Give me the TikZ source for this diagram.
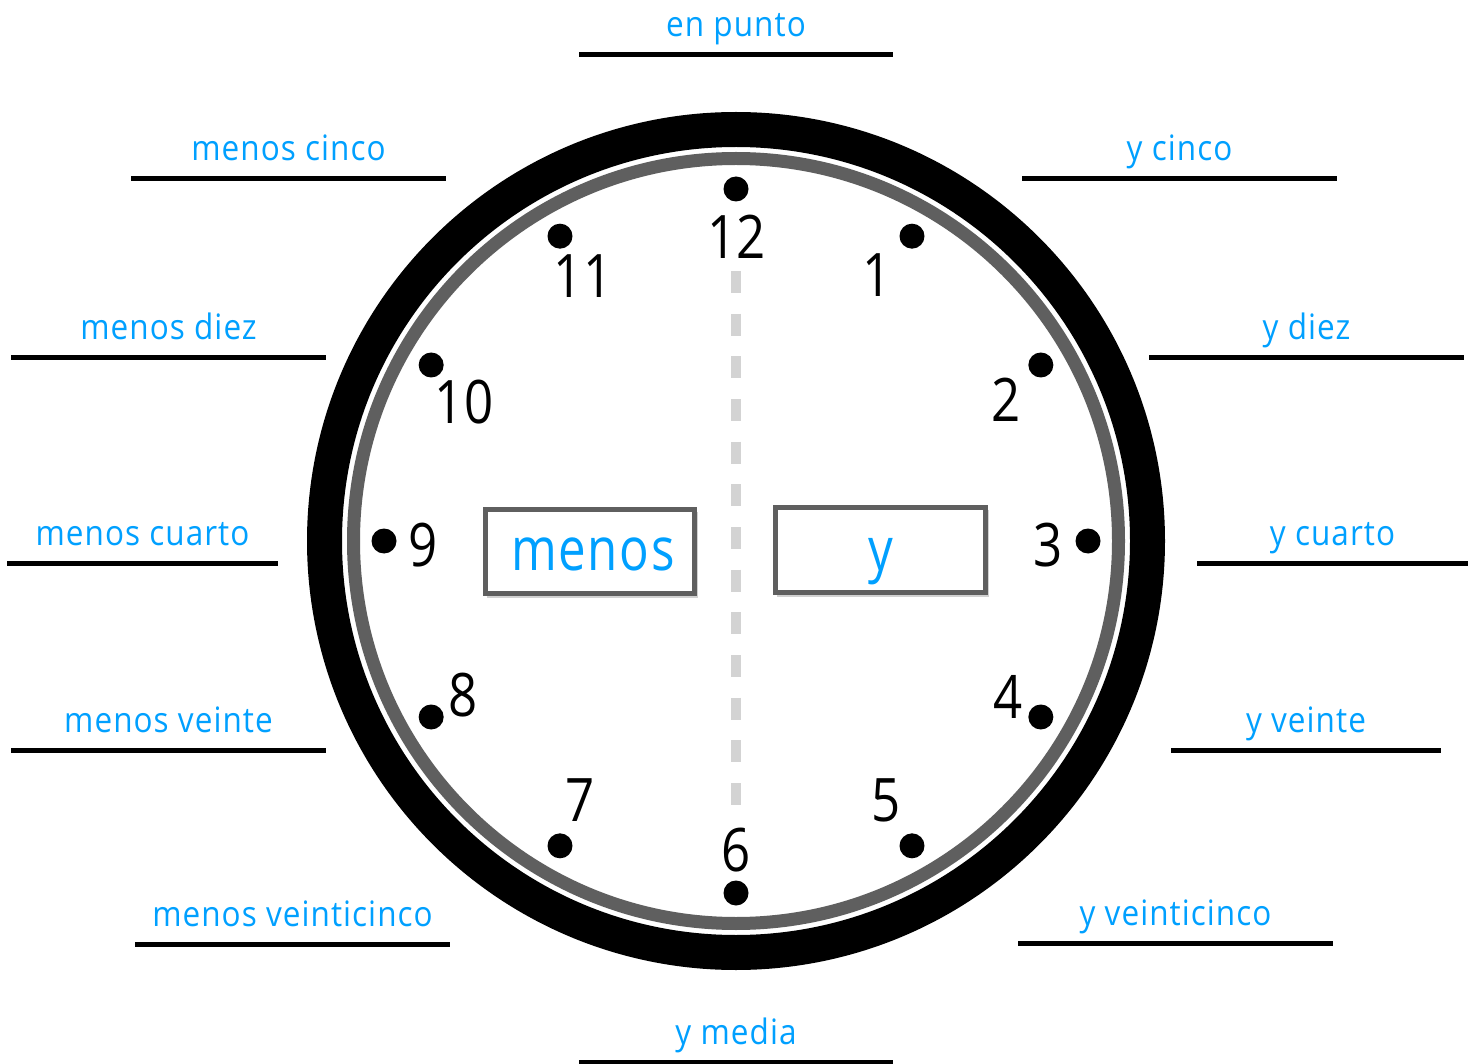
\documentclass[tikz,border=0pt]{standalone}
\usepackage{fontspec}
\setmainfont{Open Sans}
\newfontfamily\labfont[FakeStretch=0.9,LetterSpace=3]{Open Sans}
\newfontfamily\bigfont[FakeStretch=0.82,LetterSpace=3]{Open Sans}
\newfontfamily\numfont[FakeStretch=0.85]{Open Sans}
\definecolor{lblue}{RGB}{0,160,255}
\definecolor{ringgray}{RGB}{95,95,95}
\definecolor{dashgray}{RGB}{211,211,211}
\begin{document}
\begin{tikzpicture}[x=1pt,y=-1pt,
  lab/.style={anchor=base,inner sep=0pt,text=lblue,font=\labfont\fontsize{35}{40}\selectfont},
  uline/.style={line width=5pt,black},
  numlab/.style={anchor=center,inner sep=0pt,font=\numfont\fontsize{60}{64}\selectfont},
  dotnode/.style={circle,fill=black,minimum size=25pt,inner sep=0pt},
  wordbox/.style={draw=ringgray,line width=5pt,fill=white},
  boxshadow/.style={fill=black!18},
  bigword/.style={anchor=base,inner sep=0pt,text=lblue,font=\bigfont\fontsize{60}{64}\selectfont}]
\useasboundingbox (0,0) rectangle (1476,1064);
\fill[white] (0,0) rectangle (1476,1064);

% clock rings
\coordinate (C) at (736,541);
\draw[line width=35pt,black] (C) circle[radius=411.5];
\draw[line width=13pt,ringgray] (C) circle[radius=382.5];

% dashed middle line
\coordinate (dtop) at (736,271);
\coordinate (dbot) at (736,805);
\draw[dashgray,line width=10pt,dash pattern=on 22pt off 20.67pt] (dtop) -- (dbot);

% hour dots
\foreach \h in {1,...,12}{
  \node[dotnode] (d\h) at ([shift={(30*\h-90:352)}]C) {};
}

% hour numbers
\node[numlab] (n12) at (736.5,236.5) {12};
\node[numlab] (n1) at (877,275) {1};
\node[numlab] (n2) at (1006,400) {2};
\node[numlab] (n3) at (1048,545) {3};
\node[numlab] (n4) at (1008,697) {4};
\node[numlab] (n5) at (886,800) {5};
\node[numlab] (n6) at (736,850) {6};
\node[numlab] (n7) at (580,800) {7};
\node[numlab] (n8) at (463,695) {8};
\node[numlab] (n9) at (423,545) {9};
\node[numlab] (n10) at (464,402) {10};
\node[numlab] (n11) at (583,276) {11};

% center boxes
\fill[boxshadow] (487,512) rectangle (698,598);
\draw[wordbox] (485.5,509.5) rectangle (694.5,593.5);
\node[bigword] (menosw) at (593,570) {menos};
\fill[boxshadow] (777,510) rectangle (989,597);
\draw[wordbox] (775.5,507.5) rectangle (985.5,592.5);
\node[bigword] (yw) at (880.5,570) {y};

% labels with underlines
\coordinate (a1) at (579,55);  \coordinate (b1) at (893,55);
\node[lab] (t1) at (736,37) {en punto};
\coordinate (a2) at (131,179); \coordinate (b2) at (446,179);
\node[lab] (t2) at (288.5,161) {menos cinco};
\coordinate (a3) at (1022,179); \coordinate (b3) at (1337,179);
\node[lab] (t3) at (1179.5,161) {y cinco};
\coordinate (a4) at (11,358); \coordinate (b4) at (326,358);
\node[lab] (t4) at (168.5,340) {menos diez};
\coordinate (a5) at (1149,358); \coordinate (b5) at (1464,358);
\node[lab] (t5) at (1306.5,340) {y diez};
\coordinate (a6) at (7,563); \coordinate (b6) at (278,563);
\node[lab] (t6) at (142.5,545) {menos cuarto};
\coordinate (a7) at (1197,563); \coordinate (b7) at (1468,563);
\node[lab] (t7) at (1332.5,545) {y cuarto};
\coordinate (a8) at (11,750); \coordinate (b8) at (326,750);
\node[lab] (t8) at (168.5,732) {menos veinte};
\coordinate (a9) at (1171,750); \coordinate (b9) at (1441,750);
\node[lab] (t9) at (1306,732) {y veinte};
\coordinate (a10) at (135,944); \coordinate (b10) at (450,944);
\node[lab] (t10) at (292.5,926) {menos veinticinco};
\coordinate (a11) at (1018,943); \coordinate (b11) at (1333,943);
\node[lab] (t11) at (1175.5,925) {y veinticinco};
\coordinate (a12) at (579,1062); \coordinate (b12) at (893,1062);
\node[lab] (t12) at (736,1044) {y media};
\foreach \i in {1,...,12}{
  \draw[uline] (a\i) -- (b\i);
}
\end{tikzpicture}
\end{document}
